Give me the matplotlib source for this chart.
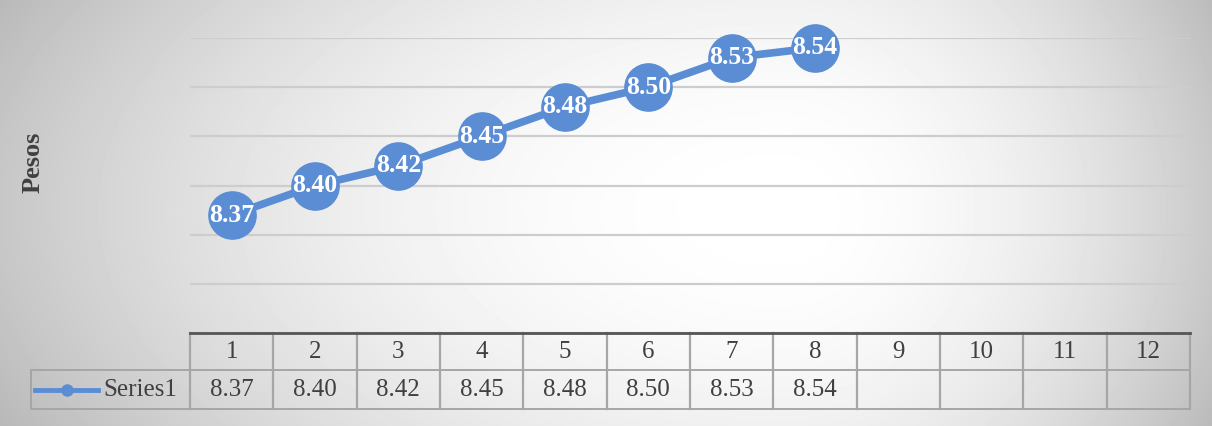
import numpy as np
import matplotlib
matplotlib.use('Agg')
import matplotlib.pyplot as plt
from matplotlib import font_manager as fm
from matplotlib.transforms import blended_transform_factory

categories = [str(i) for i in range(1, 13)]
values = [8.37, 8.40, 8.42, 8.45, 8.48, 8.50, 8.53, 8.54]
value_labels = ['8.37', '8.40', '8.42', '8.45', '8.48', '8.50', '8.53', '8.54']
series_name = 'Series1'
y_label = 'Pesos'
y_ticks = [8.25, 8.30, 8.35, 8.40, 8.45, 8.50, 8.55]


def find_font(bold):
    for f in fm.fontManager.ttflist:
        if f.name == 'Liberation Serif' and (f.weight in (700, 'bold')) == bold and f.style == 'normal':
            return fm.FontProperties(fname=f.fname)
    for f in fm.fontManager.ttflist:
        if 'Serif' in f.name and (f.weight in (700, 'bold')) == bold and f.style == 'normal':
            return fm.FontProperties(fname=f.fname)
    return fm.FontProperties(family='serif', weight='bold' if bold else 'normal')


FP_REG = find_font(False)
FP_BOLD = find_font(True)

BLUE = '#5b8dd4'
TXT = '#404040'
W, H = 1212, 426

fig = plt.figure(figsize=(W / 100, H / 100), dpi=100)

# radial gradient background
bg = fig.add_axes([0, 0, 1, 1])
bg.set_axis_off()
yy, xx = np.mgrid[0:H, 0:W]
cx = 780.0
dx = np.where(xx < cx, (xx - cx) / 780.0, (xx - cx) / 440.0)
dy = (yy - 210) / 420.0
r = np.sqrt(dx ** 2 + dy ** 2)
shade = 1 - 0.22 * np.clip(r, 0, 1.2) ** 2
bg.imshow(shade, cmap='gray', vmin=0, vmax=1, extent=[0, W, H, 0], aspect='auto')
bg.set_xlim(0, W)
bg.set_ylim(H, 0)

ax = fig.add_axes([190 / W, (H - 333) / H, 1000 / W, 295 / H])
ax.patch.set_alpha(0)
x = np.arange(1, len(values) + 1)
ax.plot(x, values, color=BLUE, lw=5.5, marker='o', ms=34, mfc=BLUE, mec=BLUE,
        clip_on=False, zorder=3)
for xi, v, lab in zip(x, values, value_labels):
    ax.text(xi, v, lab, ha='center', va='center', color='white',
            fontproperties=FP_BOLD, fontsize=18.5, zorder=4)

ax.set_xlim(0.5, len(categories) + 0.5)
ax.set_ylim(y_ticks[0], y_ticks[-1])
ax.set_yticks(y_ticks)
ax.yaxis.grid(True, color='#cdcdcd', lw=1.6)
ax.set_axisbelow(True)
ax.tick_params(left=False, labelleft=False, bottom=False, labelbottom=False)
for s in ['top', 'left', 'right']:
    ax.spines[s].set_visible(False)
ax.spines['bottom'].set_color('#555555')
ax.spines['bottom'].set_linewidth(2)

# data table
tr = blended_transform_factory(ax.transData, ax.transAxes)
y_mid = -(370 - 333) / 295
y_bot = -(409 - 333) / 295
x_leg_left = 0.5 + (31 - 190) / (1000 / 12)
lc = '#a6a6a6'
n = len(categories)
for yv in [y_mid, y_bot]:
    ax.plot([x_leg_left, n + 0.5], [yv, yv], color=lc, lw=1.4, transform=tr, clip_on=False)
for k in range(n + 1):
    ax.plot([0.5 + k, 0.5 + k], [0, y_bot], color=lc, lw=1.6, transform=tr, clip_on=False)
ax.plot([x_leg_left, x_leg_left], [y_mid, y_bot], color=lc, lw=1.4, transform=tr, clip_on=False)

for i, c in enumerate(categories):
    ax.text(i + 1, y_mid / 2, c, ha='center', va='center', color=TXT,
            fontproperties=FP_REG, fontsize=18, transform=tr)
for i, lab in enumerate(value_labels):
    ax.text(i + 1, (y_mid + y_bot) / 2, lab, ha='center', va='center', color=TXT,
            fontproperties=FP_REG, fontsize=18, transform=tr)

yrow = (y_mid + y_bot) / 2
px = lambda p: 0.5 + (p - 190) / (1000 / 12)
ax.plot([px(35), px(98)], [yrow, yrow], color=BLUE, lw=3.5, transform=tr, clip_on=False)
ax.plot([px(67)], [yrow], marker='o', ms=8, color=BLUE, transform=tr, clip_on=False)
ax.text(px(103), yrow, series_name, ha='left', va='center', color=TXT,
        fontproperties=FP_REG, fontsize=18, transform=tr)

fig.text(33 / W, 1 - 162 / H, y_label, rotation=90, ha='center', va='center',
         fontproperties=FP_BOLD, fontsize=19, color=TXT)

fig.savefig('out.png', dpi=100)
